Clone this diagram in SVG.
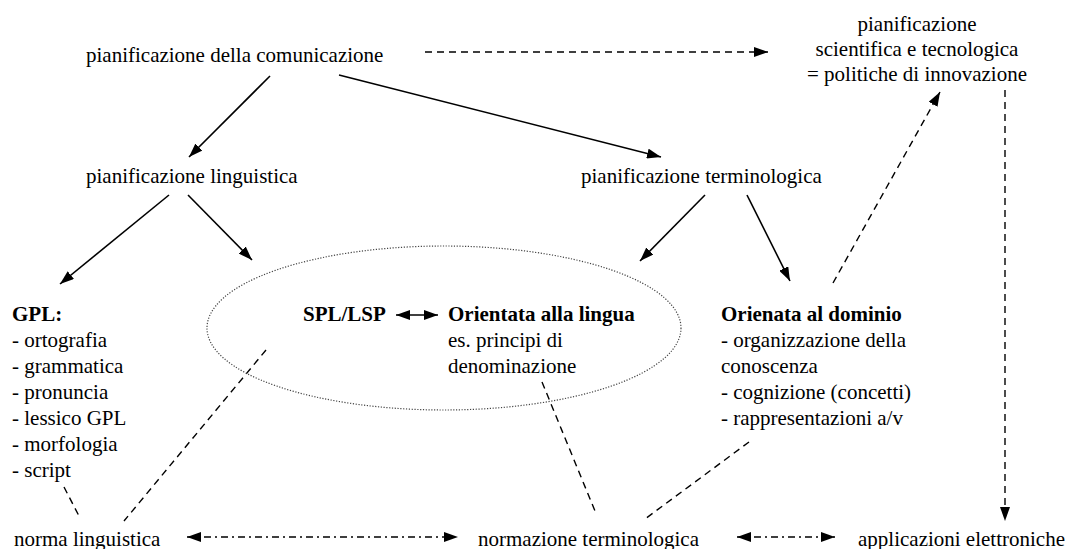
<svg xmlns="http://www.w3.org/2000/svg" width="1071" height="549" viewBox="0 0 1071 549" font-family="'Liberation Serif', 'Times New Roman', serif">
<style>
text{font-family:"Liberation Serif","Times New Roman",serif;font-size:21px;fill:#000}
.b{font-weight:bold}
.c{text-anchor:middle}
.solid{stroke:#000;stroke-width:1.6;fill:none}
.dash{stroke:#000;stroke-width:1.4;fill:none;stroke-dasharray:7 5}
.dd{stroke:#000;stroke-width:1.3;fill:none;stroke-dasharray:7 4 2 4}
.ell{stroke:#444;stroke-width:1.2;fill:none;stroke-dasharray:1.2 1.6}
</style>
<defs>
<marker id="ah" viewBox="0 0 14 10" refX="14" refY="5" markerWidth="14" markerHeight="10" markerUnits="userSpaceOnUse" orient="auto-start-reverse">
<path d="M0,0 L14,5 L0,10 Z" fill="#000"/>
</marker>
</defs>
<g id="connectors">
<line class="dash" x1="425" y1="52" x2="768" y2="52" marker-end="url(#ah)"/>
<line class="solid" x1="270" y1="76" x2="189" y2="157" marker-end="url(#ah)"/>
<line class="solid" x1="339" y1="75" x2="661" y2="157" marker-end="url(#ah)"/>
<line class="solid" x1="169" y1="195" x2="60" y2="284" marker-end="url(#ah)"/>
<line class="solid" x1="188" y1="195" x2="252" y2="260" marker-end="url(#ah)"/>
<line class="solid" x1="705" y1="195" x2="640" y2="261" marker-end="url(#ah)"/>
<line class="solid" x1="747" y1="195" x2="790" y2="281" marker-end="url(#ah)"/>
<line class="dash" x1="833" y1="283" x2="940" y2="92" marker-end="url(#ah)"/>
<line class="dash" x1="1005" y1="90" x2="1005" y2="521" marker-end="url(#ah)"/>
<line class="solid" x1="396" y1="315" x2="438" y2="315" marker-start="url(#ah)" marker-end="url(#ah)"/>
<line class="dash" x1="64" y1="487" x2="79" y2="516"/>
<line class="dash" x1="266" y1="350" x2="124" y2="521"/>
<line class="dash" x1="542" y1="382" x2="595" y2="511"/>
<line class="dash" x1="749" y1="442" x2="645" y2="519"/>
<line class="dd" x1="187" y1="537" x2="458" y2="537" marker-start="url(#ah)" marker-end="url(#ah)"/>
<line class="dd" x1="737" y1="537" x2="835" y2="537" marker-start="url(#ah)" marker-end="url(#ah)"/>
</g>
<g id="ellipse-spl"><ellipse class="ell" cx="444" cy="328" rx="237" ry="82"/></g>
<g id="n-comunicazione"><text x="86" y="62">pianificazione della comunicazione</text></g>
<g id="n-scientifica">
<text class="c" x="917" y="31">pianificazione</text>
<text class="c" x="917" y="56">scientifica e tecnologica</text>
<text class="c" x="917" y="81">= politiche di innovazione</text>
</g>
<g id="n-linguistica"><text x="86" y="183">pianificazione linguistica</text></g>
<g id="n-terminologica"><text x="581" y="183">pianificazione terminologica</text></g>
<g id="n-gpl">
<text class="b" x="12" y="321">GPL:</text>
<text x="12" y="347">- ortografia</text>
<text x="12" y="373">- grammatica</text>
<text x="12" y="399">- pronuncia</text>
<text x="12" y="425">- lessico GPL</text>
<text x="12" y="451">- morfologia</text>
<text x="12" y="477">- script</text>
</g>
<g id="n-spl"><text class="b" x="303" y="321">SPL/LSP</text></g>
<g id="n-lingua">
<text class="b" x="448" y="321">Orientata alla lingua</text>
<text x="448" y="347">es. principi di</text>
<text x="448" y="373">denominazione</text>
</g>
<g id="n-dominio">
<text class="b" x="721" y="321">Orienata al dominio</text>
<text x="721" y="347">- organizzazione della</text>
<text x="721" y="373">conoscenza</text>
<text x="721" y="399">- cognizione (concetti)</text>
<text x="721" y="425">- rappresentazioni a/v</text>
</g>
<g id="n-norma"><text x="14" y="546">norma linguistica</text></g>
<g id="n-normazione"><text x="478" y="546">normazione terminologica</text></g>
<g id="n-applicazioni"><text x="858" y="546">applicazioni elettroniche</text></g>
</svg>
